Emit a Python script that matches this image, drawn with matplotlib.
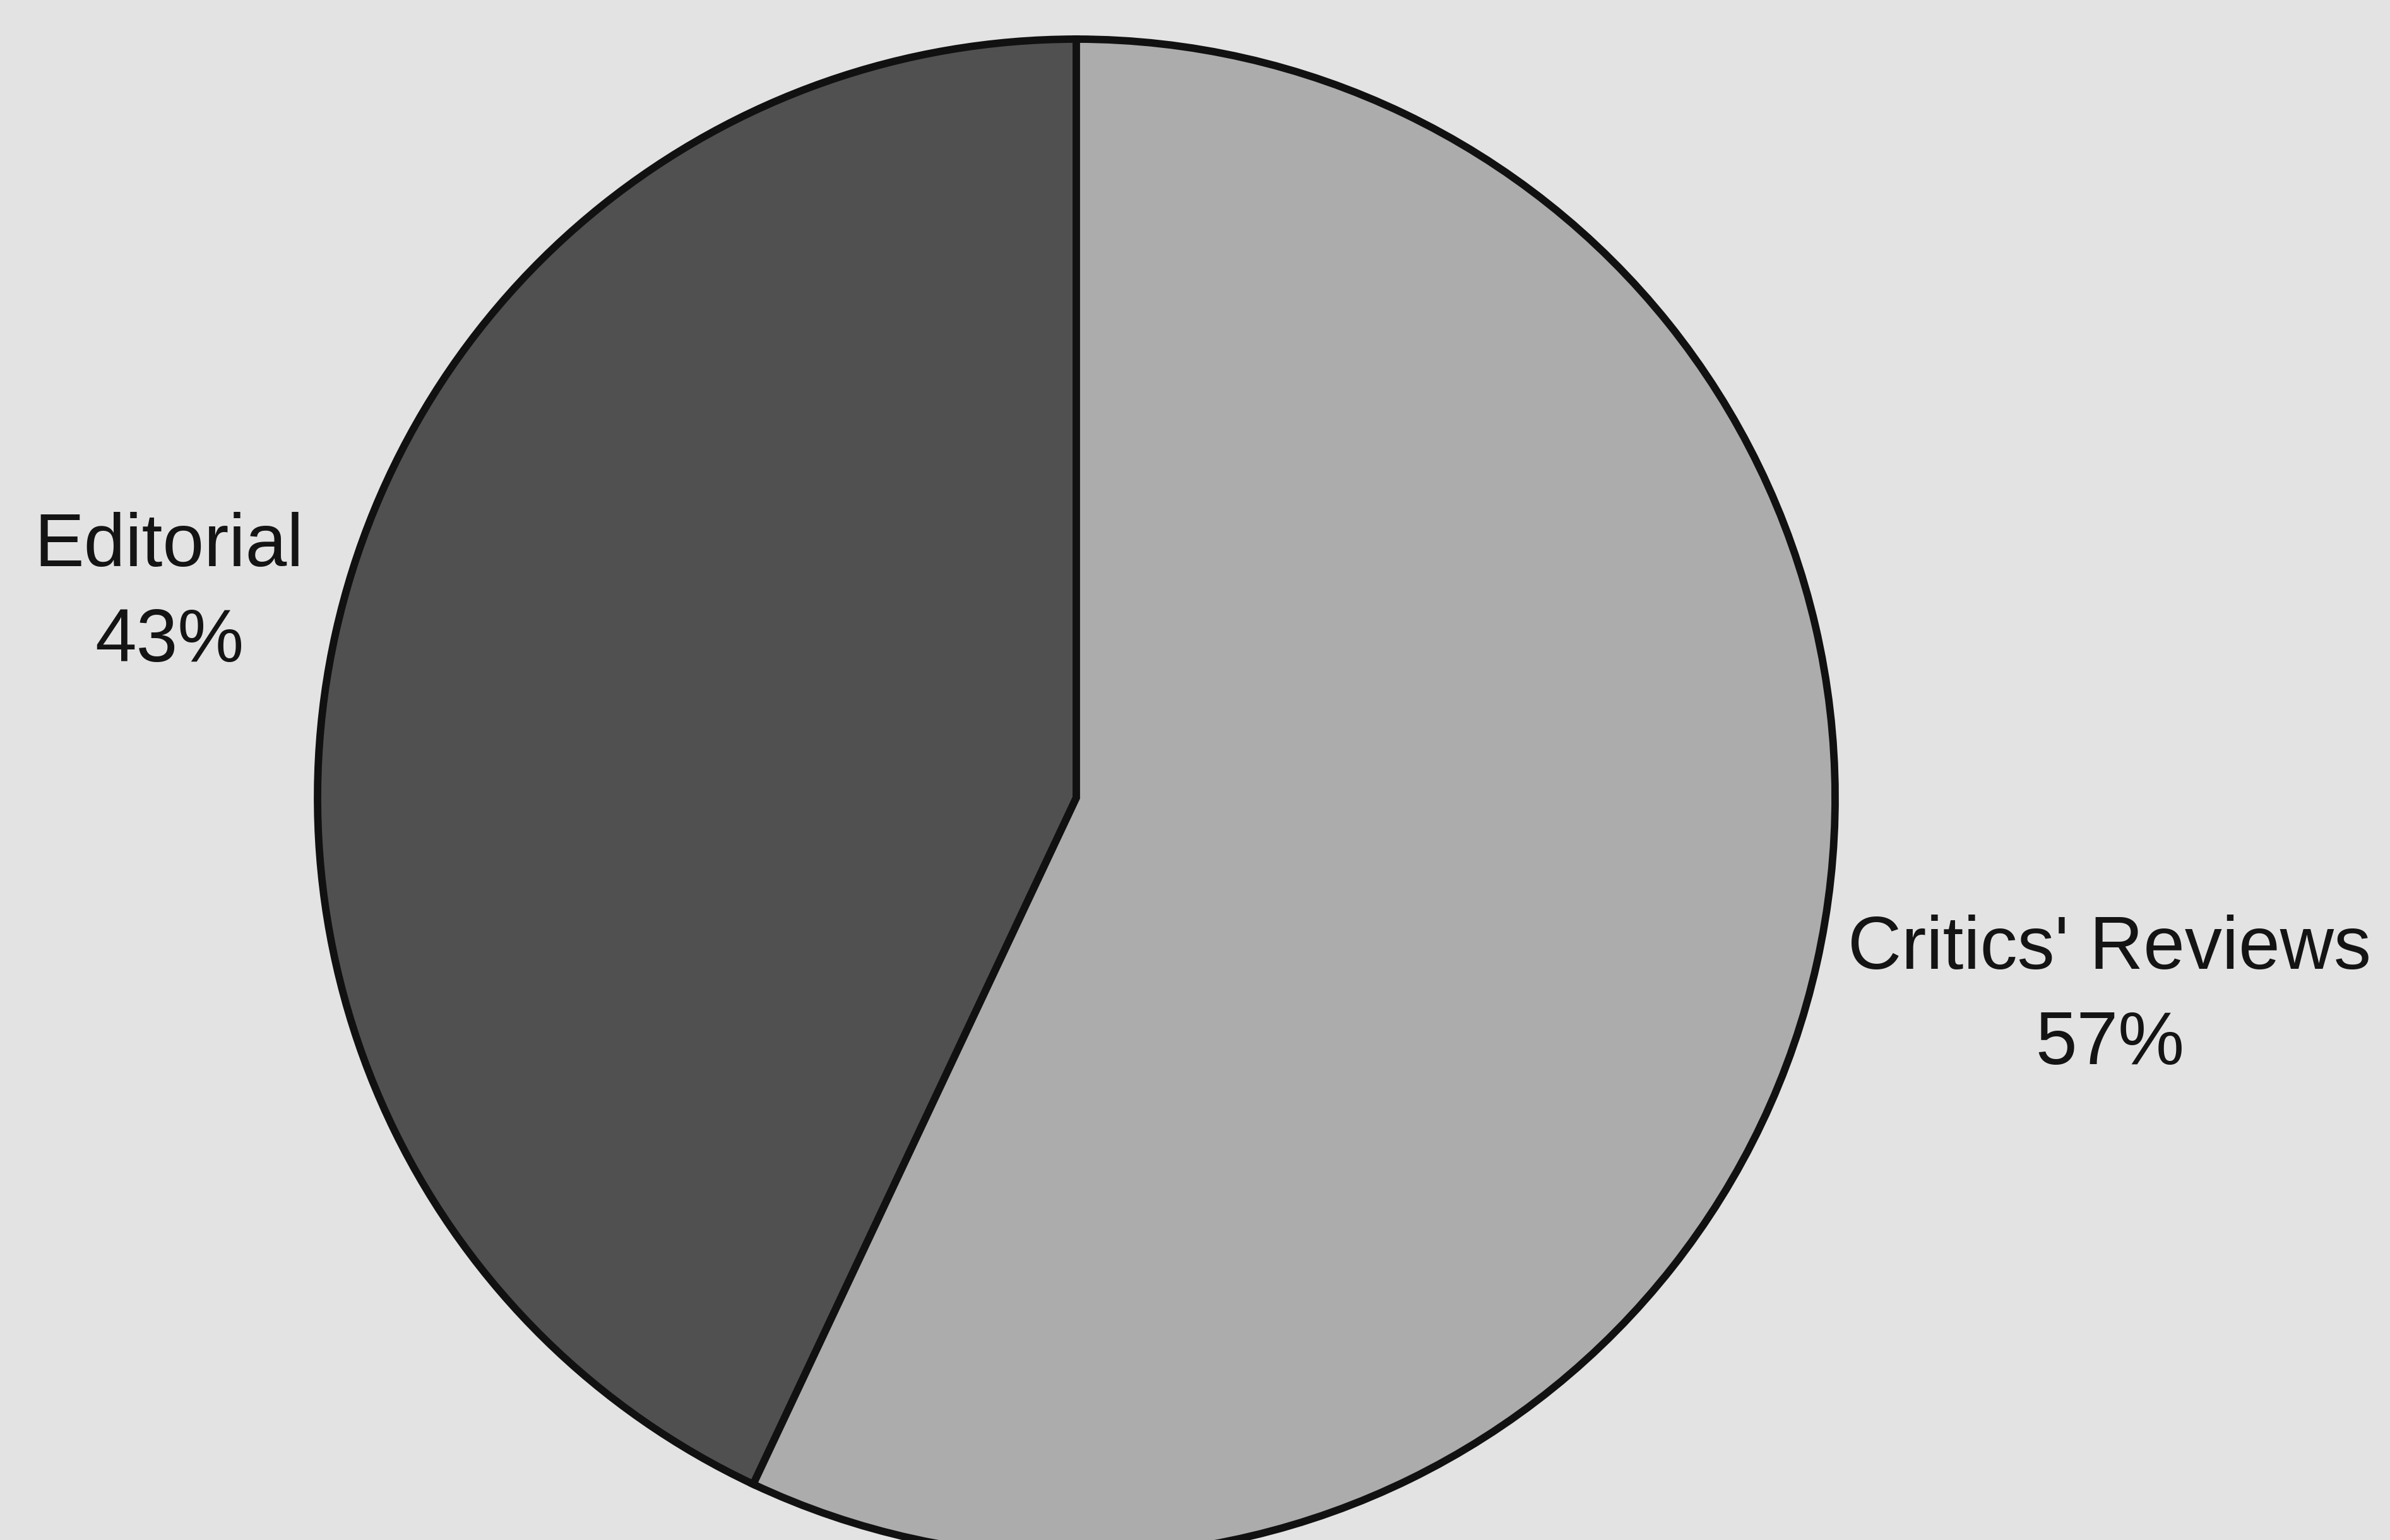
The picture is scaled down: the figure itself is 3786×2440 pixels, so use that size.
import matplotlib
matplotlib.use("Agg")
import matplotlib.pyplot as plt

categories = ["Editorial", "Critics' Reviews"]
values = [43, 57]
colors = ["#505050", "#acacac"]

W, H = 3787, 2440
fig = plt.figure(figsize=(W / 100, H / 100), dpi=100)
fig.patch.set_facecolor("#e3e3e3")
ax = fig.add_axes([0, 0, 1, 1])
ax.set_facecolor("#e3e3e3")

cx, cy, r = 1705, H - 1264, 1202
ax.pie(values, colors=colors, startangle=90, counterclock=True,
       center=(cx, cy), radius=r,
       wedgeprops=dict(edgecolor="#111111", linewidth=8.5))
ax.set_xlim(0, W)
ax.set_ylim(0, H)
ax.set_aspect("equal")
ax.axis("off")

label_pos = [(268, 897), (3342, 1535)]
pitch = 151
for (x, y), cat, v in zip(label_pos, categories, values):
    ax.text(x, H - y, cat, ha="center", va="baseline", fontsize=85,
            family="Liberation Sans", color="#141414")
    ax.text(x, H - y - pitch, f"{v}%", ha="center", va="baseline", fontsize=85,
            family="Liberation Sans", color="#141414")

fig.savefig("out.png", dpi=100, facecolor=fig.get_facecolor())
